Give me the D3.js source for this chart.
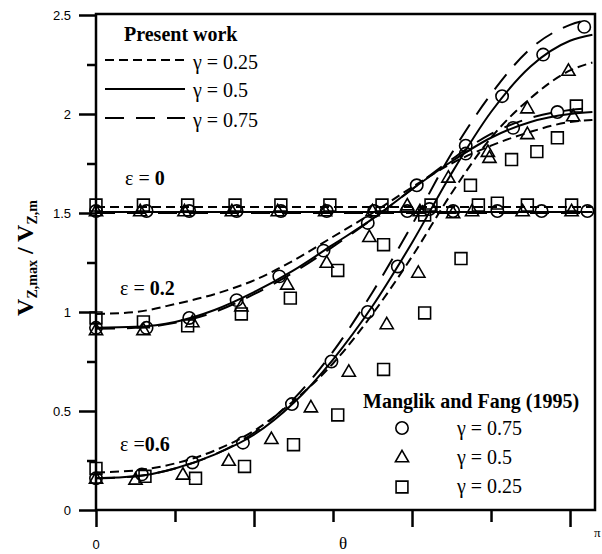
<!DOCTYPE html>
<html><head><meta charset="utf-8">
<script src="https://cdn.jsdelivr.net/npm/d3@7/dist/d3.min.js"></script>
<style>
html,body{margin:0;padding:0;background:#fff;}
svg{display:block;}
</style></head>
<body>
<svg id="chart" width="602" height="554"></svg>
<script>
// ---------- DATA ----------
const thetaGrid = [0, 0.25, 0.5, 0.75, 1, 1.25, 1.5, 1.75, 2, 2.25, 2.5, 2.75, 3, Math.PI];

// Present work curves (V_max/V_m) on thetaGrid
const eps0_g025  = [1.53,1.53,1.53,1.53,1.53,1.53,1.53,1.53,1.53,1.53,1.53,1.53,1.53,1.53];
const eps0_g05   = [1.505,1.505,1.505,1.505,1.505,1.505,1.505,1.505,1.505,1.505,1.505,1.505,1.505,1.505];
const eps0_g075  = [1.50,1.50,1.50,1.50,1.50,1.50,1.50,1.50,1.50,1.50,1.50,1.50,1.50,1.50];
const eps02_g025 = [0.99,1.00,1.04,1.09,1.16,1.26,1.38,1.50,1.63,1.75,1.84,1.91,1.96,1.97];
const eps02_g05  = [0.92,0.925,0.95,1.01,1.10,1.21,1.34,1.47,1.62,1.76,1.88,1.96,2.00,2.01];
const eps02_g075 = [0.915,0.92,0.945,1.00,1.09,1.20,1.33,1.47,1.62,1.77,1.90,1.98,2.02,2.03];
const eps06_g025 = [0.19,0.20,0.235,0.30,0.40,0.55,0.74,0.99,1.28,1.60,1.88,2.08,2.22,2.26];
const eps06_g05  = [0.16,0.17,0.21,0.28,0.38,0.54,0.76,1.03,1.35,1.70,2.01,2.24,2.37,2.40];
const eps06_g075 = [0.16,0.17,0.21,0.28,0.39,0.56,0.80,1.10,1.44,1.80,2.10,2.33,2.45,2.48];

// Manglik and Fang (1995) points
const mf_eps0_g075_theta = [0,0.32,0.59,0.89,1.17,1.46,1.76,1.97,2.26,2.54,2.82,3.11];
const mf_eps0_g075_val   = [1.51,1.51,1.51,1.51,1.51,1.51,1.51,1.51,1.51,1.51,1.51,1.51];
const mf_eps0_g05_theta  = [0,0.28,0.56,0.86,1.15,1.45,1.75,2.05,2.38,2.70,3.01];
const mf_eps0_g05_val    = [1.51,1.51,1.51,1.51,1.51,1.51,1.51,1.51,1.51,1.51,1.51];
const mf_eps0_g025_theta = [0,0.30,0.58,0.88,1.17,1.48,1.81,2.12,2.42,2.73,3.01];
const mf_eps0_g025_val   = [1.54,1.54,1.54,1.54,1.54,1.54,1.54,1.54,1.54,1.54,1.54];

const mf_eps02_g075_theta = [0,0.32,0.59,0.89,1.16,1.44,1.72,2.03,2.34,2.64,2.92];
const mf_eps02_g075_val   = [0.92,0.92,0.97,1.06,1.18,1.31,1.45,1.64,1.80,1.93,2.01];
const mf_eps02_g05_theta  = [0,0.30,0.61,0.92,1.21,1.46,1.73,1.97,2.23,2.48,2.73,3.02];
const mf_eps02_g05_val    = [0.91,0.91,0.95,1.03,1.14,1.25,1.38,1.54,1.68,1.81,1.90,1.99];
const mf_eps02_g025_theta = [0,0.30,0.58,0.92,1.23,1.53,1.82,2.08,2.37,2.63,2.92];
const mf_eps02_g025_val   = [0.97,0.95,0.93,0.99,1.07,1.21,1.34,1.49,1.64,1.77,1.88];

const mf_eps06_g075_theta = [0,0.29,0.61,0.93,1.24,1.49,1.72,1.91,2.11,2.34,2.57,2.83,3.09];
const mf_eps06_g075_val   = [0.16,0.18,0.24,0.34,0.535,0.75,1.0,1.23,1.52,1.84,2.09,2.30,2.44];
const mf_eps06_g05_theta  = [0,0.25,0.55,0.84,1.11,1.36,1.60,1.84,2.04,2.26,2.49,2.73,2.99];
const mf_eps06_g05_val    = [0.16,0.155,0.18,0.25,0.36,0.52,0.70,0.94,1.20,1.50,1.78,2.03,2.22];
const mf_eps06_g025_theta = [0,0.31,0.63,0.94,1.25,1.53,1.82,2.08,2.31,2.54,2.79,3.04];
const mf_eps06_g025_val   = [0.21,0.17,0.16,0.22,0.33,0.48,0.71,0.995,1.27,1.55,1.81,2.04];

const yTickValues = [0, 0.5, 1, 1.5, 2, 2.5];
const yTickLabels = ["0", "0.5", "1", "1.5", "2", "2.5"];
const yMinorTicks = [0.25, 0.75, 1.25, 1.75, 2.25];
const xMajorTicks = [0, 1, 2, 3];
const xMinorTicks = [0.5, 1.5, 2.5];
const xLabelValues = [0, Math.PI];
const xLabelTexts = ["0", "\u03c0"];
const presentLegend = ["\u03b3 = 0.25", "\u03b3 = 0.5", "\u03b3 = 0.75"];
const mfLegend = ["\u03b3 = 0.75", "\u03b3 = 0.5", "\u03b3 = 0.25"];

// ---------- DRAW ----------
const svg = d3.select("#chart");
const L = 96, R = 592.4, T = 15, B = 510;
const x = d3.scaleLinear().domain([0, Math.PI]).range([L, R]);
const y = d3.scaleLinear().domain([0, 2.5]).range([B, T]);
const serif = "'Liberation Serif','Times New Roman',serif";
const sans = "'Liberation Sans',Arial,sans-serif";

svg.append("rect").attr("width", 602).attr("height", 554).attr("fill", "#fff");

const dashShort = "9,5", dashLong = "19,12";
const styles = { g025: dashShort, g05: null, g075: dashLong };

const line = d3.line().x(d => x(d[0])).y(d => y(d[1])).curve(d3.curveMonotoneX);
const curves = [
  [eps0_g025, "g025"], [eps0_g05, "g05"], [eps0_g075, "g075"],
  [eps02_g025, "g025"], [eps02_g05, "g05"], [eps02_g075, "g075"],
  [eps06_g025, "g025"], [eps06_g05, "g05"], [eps06_g075, "g075"]
];
const gCurves = svg.append("g");
curves.forEach(([vals, g]) => {
  gCurves.append("path")
    .datum(thetaGrid.map((t, i) => [t, vals[i]]))
    .attr("d", line)
    .attr("fill", "none").attr("stroke", "#000").attr("stroke-width", 2)
    .attr("stroke-dasharray", styles[g]);
});

// markers
const circleSym = d3.symbol().type(d3.symbolCircle).size(120);
const triSym = d3.symbol().type(d3.symbolTriangle).size(75);
const sqSym = d3.symbol().type(d3.symbolSquare).size(140);
const markerSets = [
  [mf_eps0_g075_theta, mf_eps0_g075_val, circleSym],
  [mf_eps0_g05_theta, mf_eps0_g05_val, triSym],
  [mf_eps0_g025_theta, mf_eps0_g025_val, sqSym],
  [mf_eps02_g075_theta, mf_eps02_g075_val, circleSym],
  [mf_eps02_g05_theta, mf_eps02_g05_val, triSym],
  [mf_eps02_g025_theta, mf_eps02_g025_val, sqSym],
  [mf_eps06_g075_theta, mf_eps06_g075_val, circleSym],
  [mf_eps06_g05_theta, mf_eps06_g05_val, triSym],
  [mf_eps06_g025_theta, mf_eps06_g025_val, sqSym]
];
const gMarks = svg.append("g");
markerSets.forEach(([th, v, sym]) => {
  gMarks.selectAll(null).data(th.map((t, i) => [t, v[i]])).enter()
    .append("path")
    .attr("d", sym)
    .attr("transform", d => `translate(${x(d[0])},${y(d[1]) + (sym === triSym ? 1 : 0)})`)
    .attr("fill", "none").attr("stroke", "#000").attr("stroke-width", 1.6);
});

// axes
const axStroke = 2.5;
function styleAxis(g) {
  g.select(".domain").remove();
  g.selectAll(".tick line").attr("stroke", "#000").attr("stroke-width", axStroke);
  g.selectAll(".tick text").attr("font-family", sans).attr("font-size", 13).attr("fill", "#000");
}
svg.append("g").attr("transform", `translate(${L},0)`)
  .call(d3.axisLeft(y).tickValues(yTickValues).tickSize(17).tickPadding(8)
    .tickFormat(d => yTickLabels[yTickValues.indexOf(d)]))
  .call(styleAxis);
svg.append("g").attr("transform", `translate(${L},0)`)
  .call(d3.axisLeft(y).tickValues(yMinorTicks).tickSize(9).tickFormat(""))
  .call(styleAxis);
svg.append("g").attr("transform", `translate(0,${B})`)
  .call(d3.axisBottom(x).tickValues(xMajorTicks).tickSize(17).tickFormat(""))
  .call(styleAxis);
svg.append("g").attr("transform", `translate(0,${B})`)
  .call(d3.axisBottom(x).tickValues(xMinorTicks).tickSize(12).tickFormat(""))
  .call(styleAxis);

// frame
svg.append("rect").attr("x", L).attr("y", 14).attr("width", 595 - L).attr("height", B - 14)
  .attr("fill", "none").attr("stroke", "#000").attr("stroke-width", axStroke);

// x labels
svg.append("text").attr("x", x(xLabelValues[0])).attr("y", 549).attr("text-anchor", "middle")
  .attr("font-family", sans).attr("font-size", 13).text(xLabelTexts[0]);
svg.append("text").attr("x", x(xLabelValues[1]) + 5).attr("y", 537).attr("text-anchor", "middle")
  .attr("font-family", serif).attr("font-size", 13).text(xLabelTexts[1]);
svg.append("text").attr("x", 343).attr("y", 549).attr("text-anchor", "middle")
  .attr("font-family", serif).attr("font-size", 17).text("\u03b8");

// y title
const yt = svg.append("text").attr("transform", "translate(33,258) rotate(-90)")
  .attr("text-anchor", "middle").attr("font-family", serif).attr("font-weight", "bold").attr("font-size", 24);
yt.append("tspan").text("V");
yt.append("tspan").attr("font-size", 14).attr("dy", 4).text("Z,max");
yt.append("tspan").attr("dy", -4).text(" / V");
yt.append("tspan").attr("font-size", 14).attr("dy", 4).text("Z,m");

// Present work legend
svg.append("text").attr("x", 124).attr("y", 41).attr("font-family", serif)
  .attr("font-weight", "bold").attr("font-size", 20).text("Present work");
const legY = [60, 89, 118];
const legDash = [dashShort, null, dashLong];
const legTY = [69, 97, 127];
presentLegend.forEach((t, i) => {
  svg.append("line").attr("x1", 105).attr("x2", 185).attr("y1", legY[i]).attr("y2", legY[i])
    .attr("stroke", "#000").attr("stroke-width", 2).attr("stroke-dasharray", legDash[i]);
  svg.append("text").attr("x", 193).attr("y", legTY[i]).attr("font-family", serif)
    .attr("font-size", 20).text(t);
});

// epsilon labels
function epsLabel(xp, yp, sep, val) {
  const t = svg.append("text").attr("x", xp).attr("y", yp).attr("font-family", serif).attr("font-size", 20);
  t.append("tspan").text("\u03b5 " + sep);
  t.append("tspan").attr("font-weight", "bold").text(val);
}
epsLabel(125, 185, "= ", "0");
epsLabel(120, 295, "= ", "0.2");
epsLabel(120, 451, "=", "0.6");

// Manglik legend
svg.append("text").attr("x", 363).attr("y", 408).attr("font-family", serif)
  .attr("font-weight", "bold").attr("font-size", 20).text("Manglik and Fang (1995)");
const mfSyms = [circleSym, triSym, sqSym];
const mfMY = [428, 457, 487];
const mfTY = [435, 464, 493];
mfLegend.forEach((t, i) => {
  svg.append("path").attr("d", mfSyms[i])
    .attr("transform", `translate(402,${mfMY[i] + (i === 1 ? 1 : 0)})`)
    .attr("fill", "none").attr("stroke", "#000").attr("stroke-width", 1.6);
  svg.append("text").attr("x", 457).attr("y", mfTY[i]).attr("font-family", serif)
    .attr("font-size", 20).text(t);
});
</script>
</body></html>
